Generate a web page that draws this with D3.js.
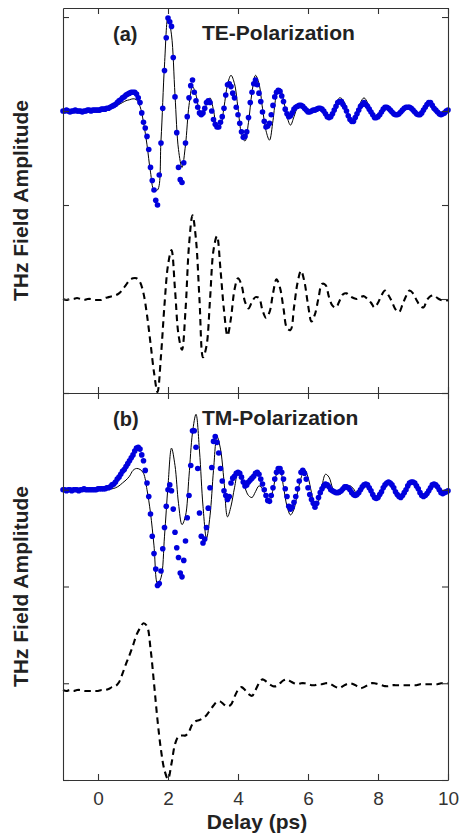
<!DOCTYPE html>
<html>
<head>
<meta charset="utf-8">
<script src="https://cdnjs.cloudflare.com/ajax/libs/d3/7.8.5/d3.min.js"></script>
<style>
body { margin: 0; background: #fff; }
svg { display: block; }
</style>
</head>
<body>
<svg id="chart" width="459" height="840"></svg>
<script>
// delay grids (ps): lines sampled every 0.1 ps, measured points every 0.05 ps, from -1 to 10
var delayStart = -1, lineStep = 0.1, dotStep = 0.05;
var xTicks = [0, 2, 4, 6, 8, 10];
var yTicks = [-2, -1, 0, 1, 2];

// (a) TE-polarization : measured dots, fit line, dashed reference
var teDots = [
  0,0,0.01,0,-0.01,0,0,0.01,0,0,0,-0.01,0,0,0.01,0.01,0,0.01,0.01,0.01,0.01,
  0.01,0.02,0.02,0.02,0.03,0.03,0.04,0.05,0.06,0.07,0.09,0.11,0.12,0.14,0.15,0.17,0.18,0.19,0.20,0.20,
  0.20,0.18,0.14,0.09,-0.02,-0.12,-0.18,-0.27,-0.41,-0.60,-0.74,-0.84,-0.95,-1.00,-0.68,-0.34,0.03,0.43,0.78,0.99,
  0.95,0.90,0.57,0.15,-0.23,-0.60,-0.73,-0.76,-0.55,-0.34,-0.06,0.14,0.27,0.33,0.20,0.11,0.04,-0.02,-0.04,-0.02,
  0.03,0.09,0.11,0.09,0,-0.09,-0.14,-0.17,-0.17,-0.12,-0.06,0.03,0.17,0.28,0.29,0.26,0.19,0.14,0.04,-0.04,
  -0.13,-0.22,-0.28,-0.27,-0.22,-0.07,0.09,0.20,0.29,0.33,0.28,0.19,0.10,-0.01,-0.11,-0.17,-0.16,-0.13,-0.04,0.06,
  0.15,0.20,0.22,0.21,0.16,0.10,0.02,-0.03,-0.06,-0.05,-0.02,0.02,0.04,0.05,0.06,0.06,0.05,0.03,0.01,-0.01,
  -0.01,0,0.01,0.01,0.02,0.03,0.03,0.02,0,-0.03,-0.06,-0.07,-0.06,-0.03,0.01,0.05,0.09,0.10,0.10,0.07,
  0.04,0,-0.05,-0.09,-0.11,-0.11,-0.07,-0.03,0.01,0.05,0.07,0.09,0.07,0.05,0.02,-0.01,-0.04,-0.07,-0.07,-0.06,
  -0.04,-0.01,0.02,0.04,0.04,0.03,0.01,-0.01,-0.03,-0.04,-0.04,-0.03,-0.01,0.01,0.03,0.04,0.04,0.04,0.03,0.01,
  -0.01,-0.03,-0.04,-0.04,-0.02,0.01,0.04,0.07,0.09,0.09,0.06,0.03,0.01,-0.01,-0.03,-0.04,-0.03,-0.02,0,0.01];
var teFit = [
  0,0,0,0,0,0,0,0,0,0,0,
  0.01,0.01,0.02,0.03,0.05,0.07,0.09,0.11,0.12,0.13,
  0.12,0.05,-0.12,-0.36,-0.65,-0.84,-0.84,-0.31,0.49,1.00,
  0.81,0.17,-0.41,-0.60,-0.36,0.06,0.26,0.17,0.01,-0.02,
  0.07,0.14,0.01,-0.17,-0.15,0.04,0.28,0.38,0.29,0.03,
  -0.24,-0.32,-0.12,0.20,0.38,0.29,0.03,-0.21,-0.31,-0.10,
  0.17,0.24,0.12,-0.06,-0.15,-0.06,0.04,0.07,0.04,0,
  0,0.01,0.03,0.03,-0.03,-0.09,-0.03,0.07,0.14,0.12,
  0.01,-0.10,-0.12,-0.04,0.09,0.14,0.09,-0.01,-0.09,-0.06,
  0,0.05,0.05,0,-0.05,-0.04,0.01,0.05,0.06,0.03,
  -0.03,-0.05,0,0.07,0.10,0.04,-0.02,-0.05,-0.02,0.01];
var teRef = [
  0,-0.01,0,0,0.01,0,-0.01,0,0,-0.01,-0.01,
  -0.01,0.01,0.02,0.03,0.04,0.06,0.10,0.15,0.20,0.22,
  0.22,0.18,0.06,-0.17,-0.47,-0.78,-0.99,-0.60,-0.06,0.36,
  0.52,0.10,-0.38,-0.54,-0.12,0.57,0.89,0.63,-0.01,-0.62,
  -0.50,-0.01,0.52,0.67,0.31,-0.12,-0.39,-0.20,0.10,0.22,
  0.15,-0.03,-0.10,-0.03,0.02,0.01,-0.12,-0.20,-0.14,0.06,
  0.21,0.12,-0.10,-0.31,-0.33,-0.09,0.17,0.30,0.18,-0.06,
  -0.24,-0.16,0.01,0.16,0.15,0.02,-0.07,-0.09,-0.02,0.05,
  0.06,0.03,0.01,0,0.02,0.03,0,-0.04,-0.09,-0.04,
  0.04,0.09,0.04,-0.03,-0.11,-0.14,-0.06,0.03,0.09,0.06,
  -0.01,-0.07,-0.09,-0.01,0.03,0.04,0.01,-0.01,-0.02,-0.01];

// (b) TM-polarization
var tmDots = [
  0,0,-0.01,0,0,-0.01,0,0,0,-0.01,0,0,0.01,0,0,0,0,0,0,0,0.01,
  0.01,0.01,0.01,0.01,0.02,0.02,0.03,0.05,0.06,0.08,0.11,0.13,0.16,0.19,0.21,0.24,0.27,0.30,0.33,0.36,
  0.40,0.43,0.44,0.42,0.36,0.30,0.20,0.07,-0.07,-0.25,-0.48,-0.66,-0.82,-0.99,-0.97,-0.84,-0.61,-0.39,-0.17,0,
  0.05,-0.01,-0.20,-0.44,-0.60,-0.70,-0.86,-0.90,-0.73,-0.53,-0.29,-0.06,0.25,0.61,0.61,0.44,0.22,-0.24,-0.48,-0.55,
  -0.51,-0.39,-0.19,0.02,0.23,0.50,0.55,0.49,0.38,0.22,0.09,-0.01,-0.06,-0.10,-0.07,0.07,0.12,0.14,0.17,0.18,
  0.17,0.13,0.08,0.04,0.05,0.08,0.10,0.12,0.14,0.17,0.18,0.16,0.11,0.06,0,-0.06,-0.11,-0.12,-0.06,0.02,
  0.11,0.18,0.22,0.22,0.18,0.11,0.01,-0.07,-0.17,-0.20,-0.18,-0.13,-0.07,0.01,0.09,0.18,0.20,0.17,0.11,0.02,
  -0.05,-0.10,-0.14,-0.18,-0.14,-0.08,-0.03,0.01,0.04,0.06,0.05,0.03,0,-0.01,-0.02,-0.03,-0.03,-0.02,-0.01,0.01,
  0.03,0.03,0.02,0,-0.03,-0.05,-0.06,-0.05,-0.03,0,0.03,0.05,0.06,0.05,0.02,-0.01,-0.05,-0.08,-0.09,-0.08,
  -0.05,-0.02,0.02,0.05,0.07,0.08,0.07,0.05,0.02,-0.02,-0.05,-0.07,-0.08,-0.06,-0.03,0,0.04,0.07,0.08,0.08,
  0.07,0.04,0.01,-0.03,-0.06,-0.07,-0.06,-0.04,-0.01,0.02,0.05,0.06,0.05,0.03,0,-0.03,-0.04,-0.03,-0.02,-0.01];
var tmFit = [
  0,0,0,0,0,0,0,0,0,0,0,
  0,0,0.01,0.01,0.02,0.04,0.07,0.10,0.14,0.20,
  0.22,0.21,0.17,0,-0.24,-0.58,-0.97,-0.91,-0.48,0.04,
  0.43,0.25,-0.14,-0.36,-0.27,0.14,0.59,0.78,0.40,-0.17,
  -0.50,-0.27,0.20,0.55,0.42,0.09,-0.28,-0.17,0.02,0.17,
  0.13,0.02,-0.06,-0.08,-0.02,0.04,0.01,-0.07,-0.12,0,
  0.16,0.21,0.03,-0.17,-0.26,-0.20,-0.03,0.12,0.21,0.13,
  -0.03,-0.18,-0.12,0.04,0.16,0.13,0.02,-0.04,-0.05,-0.02,
  0.02,0.04,0.01,-0.04,-0.03,0.02,0.04,0,-0.07,-0.08,
  -0.02,0.04,0.07,0.04,-0.02,-0.06,-0.05,0,0.05,0.07,
  0.03,-0.03,-0.06,-0.03,0.02,0.05,0.03,-0.02,-0.03,-0.01];
var tmRef = [
  -0.07,-0.08,-0.07,-0.08,-0.07,-0.07,-0.08,-0.08,-0.08,-0.08,-0.08,
  -0.07,-0.07,-0.06,-0.04,-0.03,0.01,0.10,0.20,0.29,0.39,
  0.50,0.57,0.62,0.59,0.36,0,-0.38,-0.69,-0.90,-0.99,
  -0.83,-0.63,-0.55,-0.54,-0.54,-0.50,-0.42,-0.39,-0.38,-0.36,
  -0.33,-0.28,-0.23,-0.19,-0.19,-0.22,-0.24,-0.22,-0.14,-0.07,
  -0.04,-0.07,-0.11,-0.13,-0.07,0,0.04,0.02,-0.01,-0.03,
  -0.03,0,0.03,0.04,0.02,0,-0.01,0,0,-0.01,
  -0.02,-0.02,-0.01,-0.01,0,0,-0.02,-0.04,-0.05,-0.03,
  -0.01,0,-0.01,-0.03,-0.05,-0.04,-0.02,0,0,-0.01,
  -0.02,-0.03,-0.03,-0.02,-0.02,-0.02,-0.02,-0.02,-0.02,-0.02,
  -0.02,-0.01,-0.01,-0.01,-0.01,-0.01,-0.01,0,0,0];

var sigOffset = 1, refOffset = -1; // vertical shift of the traces

var svg = d3.select("#chart");
var x = d3.scaleLinear().domain([-1, 10]).range([63, 448]);

var ink = "#333";
var textCol = "#222";
var font = "Liberation Sans, Arial, sans-serif";

function delayAt(i, step){ return +(delayStart + i * step).toFixed(2); }

function drawPanel(top, bottom, yDomain, dots, fit, ref, tag, title, showLabels){
    var y = d3.scaleLinear().domain(yDomain).range([bottom, top]);
    var g = svg.append("g");

    var line = d3.line()
        .x(function(d, i){ return x(delayAt(i, lineStep)); })
        .curve(d3.curveCatmullRom);

    // reference (dashed)
    g.append("path")
        .attr("d", line.y(function(d){ return y(d + refOffset); })(ref))
        .attr("fill", "none")
        .attr("stroke", "#000")
        .attr("stroke-width", 2.1)
        .attr("stroke-dasharray", "6.5,4.5");

    // fit (thin solid)
    g.append("path")
        .attr("d", line.y(function(d){ return y(d + sigOffset); })(fit))
        .attr("fill", "none")
        .attr("stroke", "#000")
        .attr("stroke-width", 1);

    // measured (blue dots)
    g.selectAll("circle")
        .data(dots)
        .enter()
        .append("circle")
        .attr("cx", function(d, i){ return x(delayAt(i, dotStep)); })
        .attr("cy", function(d){ return y(d + sigOffset); })
        .attr("r", 2.8)
        .attr("fill", "#0000dd");

    // frame with inward ticks
    function styleAxis(sel){
        sel.selectAll("path, line").attr("stroke", ink).attr("stroke-width", 1.1);
        sel.selectAll("text").attr("fill", "#333")
            .style("font-family", font)
            .style("font-size", "19px");
    }
    g.append("g").attr("transform", "translate(63,0)")
        .call(d3.axisLeft(y).tickValues(yTicks).tickSize(-6).tickSizeOuter(0).tickFormat(""))
        .call(styleAxis);
    g.append("g").attr("transform", "translate(448,0)")
        .call(d3.axisRight(y).tickValues(yTicks).tickSize(-6).tickSizeOuter(0).tickFormat(""))
        .call(styleAxis);
    g.append("g").attr("transform", "translate(0," + top + ")")
        .call(d3.axisTop(x).tickValues(xTicks).tickSize(-6).tickSizeOuter(0).tickFormat(""))
        .call(styleAxis);
    var xb = d3.axisBottom(x).tickValues(xTicks).tickSize(-6).tickSizeOuter(0).tickPadding(12);
    if (!showLabels) xb.tickFormat("");
    g.append("g").attr("transform", "translate(0," + bottom + ")")
        .call(xb)
        .call(styleAxis);

    // panel tag + title
    g.append("text").attr("x", 113).attr("y", top + 33)
        .text(tag)
        .attr("fill", textCol)
        .style("font-family", font)
        .style("font-weight", "bold").style("font-size", "20px");
    g.append("text").attr("x", 202).attr("y", top + 32)
        .text(title)
        .attr("fill", textCol)
        .style("font-family", font)
        .style("font-weight", "bold").style("font-size", "21px");

    // y label
    g.append("text")
        .attr("transform", "translate(28," + ((top + bottom) / 2) + ") rotate(-90)")
        .attr("text-anchor", "middle")
        .text("THz Field Amplitude")
        .attr("fill", textCol)
        .style("font-family", font)
        .style("font-weight", "bold").style("font-size", "21px");
}

drawPanel(8, 393, [-2, 2.096], teDots, teFit, teRef, "(a)", "TE-Polarization", false);
drawPanel(393, 780, [-2, 2], tmDots, tmFit, tmRef, "(b)", "TM-Polarization", true);

// x label
svg.append("text")
    .attr("x", 257).attr("y", 829)
    .attr("text-anchor", "middle")
    .text("Delay (ps)")
    .attr("fill", textCol)
    .style("font-family", font)
    .style("font-weight", "bold").style("font-size", "21px");
</script>
</body>
</html>
